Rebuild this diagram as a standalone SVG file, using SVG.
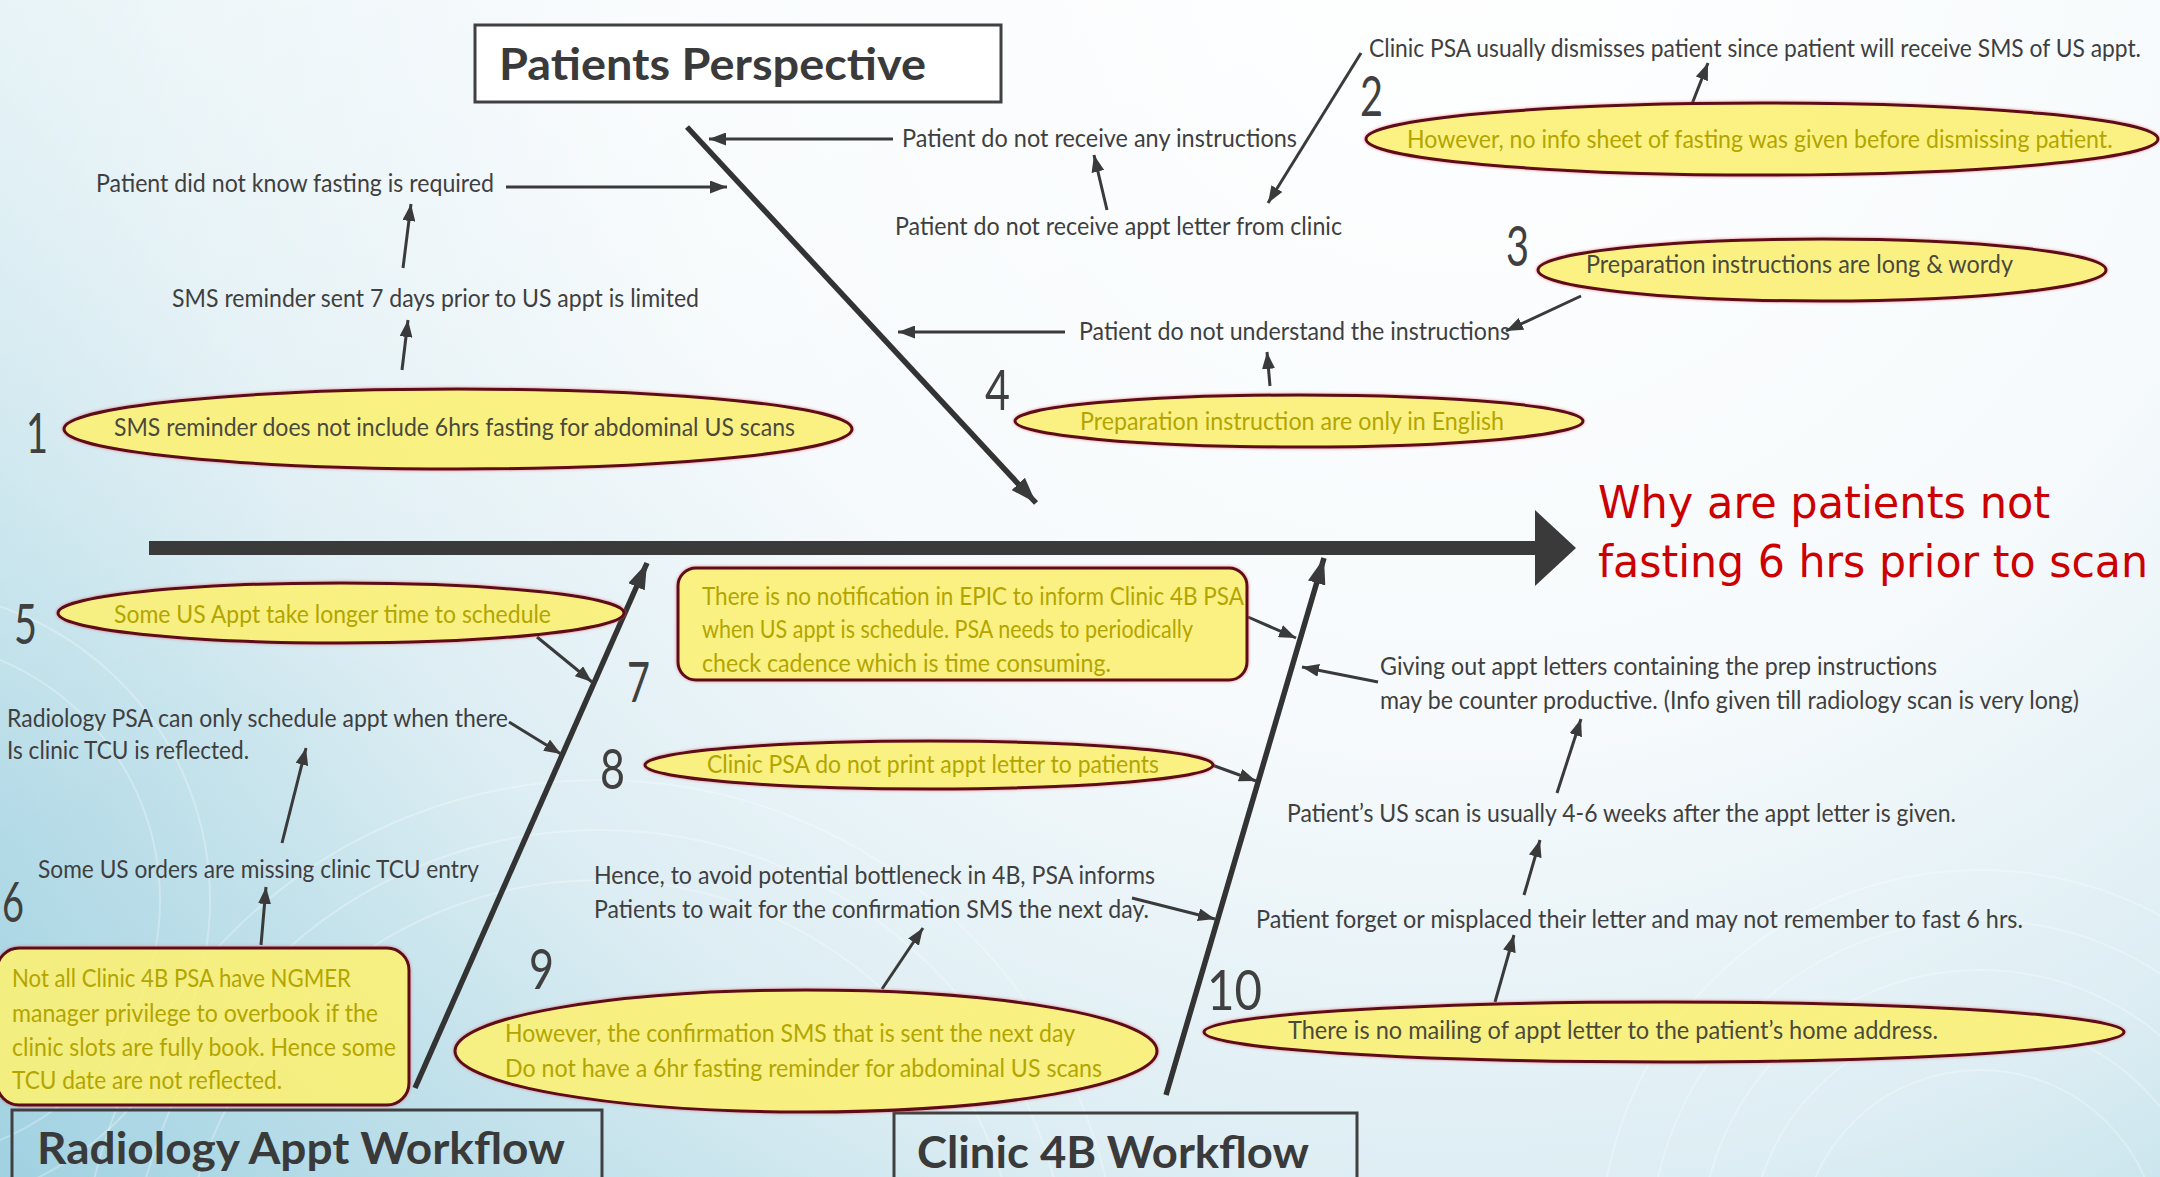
<svg xmlns="http://www.w3.org/2000/svg" width="2160" height="1177" viewBox="0 0 2160 1177">
<defs>
<radialGradient id="bg" gradientUnits="userSpaceOnUse" cx="1450" cy="-80" r="1950">
<stop offset="0" stop-color="#ffffff"/>
<stop offset="0.42" stop-color="#f6fafc"/>
<stop offset="0.66" stop-color="#dcedf3"/>
<stop offset="0.8" stop-color="#bfe0ea"/>
<stop offset="1" stop-color="#9ed0e1"/>
</radialGradient>
<linearGradient id="tl" x1="0" y1="0" x2="0.35" y2="0.45">
<stop offset="0" stop-color="#ffffff" stop-opacity="0.55"/>
<stop offset="1" stop-color="#ffffff" stop-opacity="0"/>
</linearGradient>
<filter id="glow" x="-5%" y="-20%" width="110%" height="140%">
<feDropShadow dx="0" dy="0" stdDeviation="1.6" flood-color="#e0505f" flood-opacity="0.7"/>
</filter>
<marker id="ah" viewBox="0 0 10 10" refX="10" refY="5" markerWidth="17" markerHeight="13" markerUnits="userSpaceOnUse" orient="auto" preserveAspectRatio="none">
<path d="M0,0 L10,5 L0,10 z" fill="#3a3a3a"/>
</marker>
<marker id="bh" viewBox="0 0 10 10" refX="10" refY="5" markerWidth="26" markerHeight="18" markerUnits="userSpaceOnUse" orient="auto" preserveAspectRatio="none">
<path d="M0,0 L10,5 L0,10 z" fill="#3a3a3a"/>
</marker>
</defs>
<style>
.t{font-family:Lato,"Open Sans","Liberation Sans",sans-serif;font-size:25px;fill:#3f3f3f}
.d{fill:#4a4a3c}
.y{fill:#b3a500}
.num{font-family:Lato,"Open Sans","Liberation Sans",sans-serif;font-size:56px;font-weight:400;fill:#404040}
.hd{font-family:Lato,"Open Sans","Liberation Sans",sans-serif;font-size:44px;font-weight:bold;fill:#3a3a3a}
.red{font-family:"DejaVu Sans","Liberation Sans",sans-serif;font-size:45px;fill:#cc0000}
.sh{fill:#ffff78;fill-opacity:0.78;stroke:#5c0a18;stroke-width:3;filter:url(#glow)}
.box{fill:none;stroke:#404040;stroke-width:3}
.ar{stroke:#3a3a3a;stroke-width:3;fill:none;marker-end:url(#ah)}
.bone{stroke:#333333;stroke-width:5.5;fill:none;marker-end:url(#bh)}
.sw{fill:none;stroke:#ffffff;stroke-opacity:0.28;stroke-width:2}
</style>
<rect x="0" y="0" width="2160" height="1177" fill="url(#bg)"/>
<rect x="0" y="0" width="2160" height="1177" fill="url(#tl)"/>
<g id="swirls">
<circle class="sw" cx="1980" cy="1250" r="180"/>
<circle class="sw" cx="1980" cy="1250" r="230"/>
<circle class="sw" cx="1980" cy="1250" r="280"/>
<circle class="sw" cx="1980" cy="1250" r="330"/>
<circle class="sw" cx="1980" cy="1250" r="380"/>
<circle class="sw" cx="600" cy="1300" r="420"/>
<circle class="sw" cx="600" cy="1300" r="470"/>
<circle class="sw" cx="600" cy="1300" r="520"/>
<circle class="sw" cx="-100" cy="900" r="260"/>
<circle class="sw" cx="-100" cy="900" r="310"/>
</g>

<g id="connectors">
<line x1="149" y1="548" x2="1540" y2="548" stroke="#3a3a3a" stroke-width="14"/>
<polygon points="1535,510 1576,548 1535,586" fill="#3a3a3a"/>
<line class="bone" x1="687" y1="127" x2="1036" y2="503"/>
<line class="bone" x1="415" y1="1088" x2="647" y2="563"/>
<line class="bone" x1="1166" y1="1095" x2="1324" y2="558"/>
<line class="ar" x1="893" y1="139" x2="709" y2="139"/>
<line class="ar" x1="506" y1="187" x2="727" y2="187"/>
<line class="ar" x1="403" y1="268" x2="411" y2="204"/>
<line class="ar" x1="402" y1="370" x2="408" y2="320"/>
<line class="ar" x1="1107" y1="210" x2="1094" y2="155"/>
<line class="ar" x1="1361" y1="53" x2="1268" y2="203"/>
<line class="ar" x1="1692" y1="104" x2="1708" y2="63"/>
<line class="ar" x1="1581" y1="296" x2="1506" y2="331"/>
<line class="ar" x1="1065" y1="332" x2="898" y2="332"/>
<line class="ar" x1="1270" y1="386" x2="1267" y2="352"/>
<line class="ar" x1="537" y1="637" x2="592" y2="682"/>
<line class="ar" x1="509" y1="722" x2="561" y2="754"/>
<line class="ar" x1="282" y1="843" x2="306" y2="748"/>
<line class="ar" x1="261" y1="945" x2="266" y2="887"/>
<line class="ar" x1="1248" y1="617" x2="1296" y2="638"/>
<line class="ar" x1="1378" y1="682" x2="1302" y2="667"/>
<line class="ar" x1="1212" y1="765" x2="1256" y2="781"/>
<line class="ar" x1="1132" y1="898" x2="1215" y2="919"/>
<line class="ar" x1="882" y1="989" x2="923" y2="928"/>
<line class="ar" x1="1495" y1="1002" x2="1514" y2="935"/>
<line class="ar" x1="1524" y1="895" x2="1540" y2="840"/>
<line class="ar" x1="1557" y1="793" x2="1581" y2="719"/>
</g>

<g id="head">
<g transform="translate(1598,518) scale(0.72,1)"><text class="red" x="0" y="0" textLength="628" lengthAdjust="spacingAndGlyphs">Why are patients not</text></g>
<g transform="translate(1598,577) scale(0.72,1)"><text class="red" x="0" y="0" textLength="764" lengthAdjust="spacingAndGlyphs">fasting 6 hrs prior to scan</text></g>
</g>

<g id="cat-patients">
<rect x="475" y="25" width="526" height="77" fill="#ffffff" stroke="#404040" stroke-width="3"/>
<text class="hd" x="499" y="80" textLength="427" lengthAdjust="spacingAndGlyphs">Patients Perspective</text>
</g>
<g id="cat-radiology">
<rect class="box" x="12" y="1110" width="590" height="90"/>
<text class="hd" x="37" y="1164" font-size="42" textLength="528" lengthAdjust="spacingAndGlyphs">Radiology Appt Workflow</text>
</g>
<g id="cat-clinic">
<rect class="box" x="894" y="1113" width="463" height="90"/>
<text class="hd" x="917" y="1168" font-size="42" textLength="392" lengthAdjust="spacingAndGlyphs">Clinic 4B Workflow</text>
</g>

<g id="n1">
<ellipse class="sh" cx="458" cy="429" rx="394" ry="40"/>
<text class="num" x="26" y="453" textLength="22" lengthAdjust="spacingAndGlyphs">1</text>
<text class="t d" x="114" y="436" textLength="681" lengthAdjust="spacingAndGlyphs">SMS reminder does not include 6hrs fasting for abdominal US scans</text>
</g>
<g id="n1a"><text class="t" x="172" y="307" textLength="527" lengthAdjust="spacingAndGlyphs">SMS reminder sent 7 days prior to US appt is limited</text></g>
<g id="n1b"><text class="t" x="96" y="192" textLength="398" lengthAdjust="spacingAndGlyphs">Patient did not know fasting is required</text></g>

<g id="n2">
<ellipse class="sh" cx="1762" cy="139" rx="396" ry="36"/>
<text class="num" x="1360" y="116" textLength="23" lengthAdjust="spacingAndGlyphs">2</text>
<g transform="translate(1407,148) scale(0.8,1)"><text class="t y" x="0" y="0" textLength="882" lengthAdjust="spacingAndGlyphs">However, no info sheet of fasting was given before dismissing patient.</text></g>
</g>
<g id="n2a"><g transform="translate(1369,57) scale(0.8,1)"><text class="t" x="0" y="0" textLength="965" lengthAdjust="spacingAndGlyphs">Clinic PSA usually dismisses patient since patient will receive SMS of US appt.</text></g></g>
<g id="n2b"><text class="t" x="895" y="235" textLength="447" lengthAdjust="spacingAndGlyphs">Patient do not receive appt letter from clinic</text></g>
<g id="n2c"><text class="t" x="902" y="147" textLength="395" lengthAdjust="spacingAndGlyphs">Patient do not receive any instructions</text></g>

<g id="n3">
<ellipse class="sh" cx="1822" cy="270" rx="284" ry="31"/>
<text class="num" x="1506" y="266" textLength="23" lengthAdjust="spacingAndGlyphs">3</text>
<text class="t d" x="1586" y="273" textLength="427" lengthAdjust="spacingAndGlyphs">Preparation instructions are long &amp; wordy</text>
</g>
<g id="n3a"><text class="t" x="1079" y="340" textLength="431" lengthAdjust="spacingAndGlyphs">Patient do not understand the instructions</text></g>

<g id="n4">
<ellipse class="sh" cx="1299" cy="421" rx="284" ry="26"/>
<text class="num" x="985" y="410" textLength="25" lengthAdjust="spacingAndGlyphs">4</text>
<text class="t y" x="1080" y="430" textLength="424" lengthAdjust="spacingAndGlyphs">Preparation instruction are only in English</text>
</g>

<g id="n5">
<ellipse class="sh" cx="341" cy="613" rx="283" ry="30"/>
<text class="num" x="14" y="644" textLength="23" lengthAdjust="spacingAndGlyphs">5</text>
<text class="t y" x="114" y="623" textLength="437" lengthAdjust="spacingAndGlyphs">Some US Appt take longer time to schedule</text>
</g>

<g id="n6">
<rect class="sh" x="-3" y="948" width="412" height="157" rx="22"/>
<text class="num" x="2" y="922" textLength="22" lengthAdjust="spacingAndGlyphs">6</text>
<text class="t y" x="12" y="987" textLength="339" lengthAdjust="spacingAndGlyphs">Not all Clinic 4B PSA have NGMER</text>
<text class="t y" x="12" y="1022" textLength="366" lengthAdjust="spacingAndGlyphs">manager privilege to overbook if the</text>
<text class="t y" x="12" y="1056" textLength="384" lengthAdjust="spacingAndGlyphs">clinic slots are fully book. Hence some</text>
<text class="t y" x="12" y="1089" textLength="270" lengthAdjust="spacingAndGlyphs">TCU date are not reflected.</text>
</g>
<g id="n6a"><text class="t" x="38" y="878" textLength="441" lengthAdjust="spacingAndGlyphs">Some US orders are missing clinic TCU entry</text></g>
<g id="n6b">
<text class="t" x="7" y="727" textLength="501" lengthAdjust="spacingAndGlyphs">Radiology PSA can only schedule appt when there</text>
<text class="t" x="7" y="759" textLength="242" lengthAdjust="spacingAndGlyphs">Is clinic TCU is reflected.</text>
</g>

<g id="n7">
<rect class="sh" x="678" y="568" width="569" height="112" rx="18"/>
<text class="num" x="627" y="702" textLength="23" lengthAdjust="spacingAndGlyphs">7</text>
<text class="t y" x="702" y="605" textLength="542" lengthAdjust="spacingAndGlyphs">There is no notification in EPIC to inform Clinic 4B PSA</text>
<text class="t y" x="702" y="638" textLength="491" lengthAdjust="spacingAndGlyphs">when US appt is schedule. PSA needs to periodically</text>
<text class="t y" x="702" y="672" textLength="409" lengthAdjust="spacingAndGlyphs">check cadence  which is time consuming.</text>
</g>
<g id="n7a">
<text class="t" x="1380" y="675" textLength="557" lengthAdjust="spacingAndGlyphs">Giving out appt letters containing the prep instructions</text>
<text class="t" x="1380" y="709" textLength="699" lengthAdjust="spacingAndGlyphs">may be counter productive. (Info given till radiology scan is very long)</text>
</g>

<g id="n8">
<ellipse class="sh" cx="929" cy="765" rx="284" ry="24"/>
<text class="num" x="600" y="789" textLength="25" lengthAdjust="spacingAndGlyphs">8</text>
<text class="t y" x="707" y="773" textLength="452" lengthAdjust="spacingAndGlyphs">Clinic PSA do not print appt letter to patients</text>
</g>

<g id="n9">
<ellipse class="sh" cx="806" cy="1051" rx="351" ry="61"/>
<text class="num" x="529" y="989" textLength="25" lengthAdjust="spacingAndGlyphs">9</text>
<text class="t y" x="505" y="1042" textLength="570" lengthAdjust="spacingAndGlyphs">However, the confirmation SMS that is sent the next day</text>
<text class="t y" x="505" y="1077" textLength="597" lengthAdjust="spacingAndGlyphs">Do not have a 6hr fasting reminder for abdominal US scans</text>
</g>
<g id="n9a">
<text class="t" x="594" y="884" textLength="561" lengthAdjust="spacingAndGlyphs">Hence, to avoid potential bottleneck in 4B, PSA informs</text>
<text class="t" x="594" y="918" textLength="555" lengthAdjust="spacingAndGlyphs">Patients to wait for the confirmation SMS the next day.</text>
</g>

<g id="n10">
<ellipse class="sh" cx="1664" cy="1032" rx="460" ry="30"/>
<text class="num" x="1207" y="1010" textLength="55" lengthAdjust="spacingAndGlyphs">10</text>
<text class="t d" x="1288" y="1039" textLength="650" lengthAdjust="spacingAndGlyphs">There is no mailing of appt letter to the patient’s home address.</text>
</g>
<g id="n10a"><text class="t" x="1256" y="928" textLength="767" lengthAdjust="spacingAndGlyphs">Patient forget or misplaced their letter and may not remember to fast 6 hrs.</text></g>
<g id="n10b"><text class="t" x="1287" y="822" textLength="669" lengthAdjust="spacingAndGlyphs">Patient’s US scan is usually 4-6 weeks after the appt letter is given.</text></g>
</svg>
